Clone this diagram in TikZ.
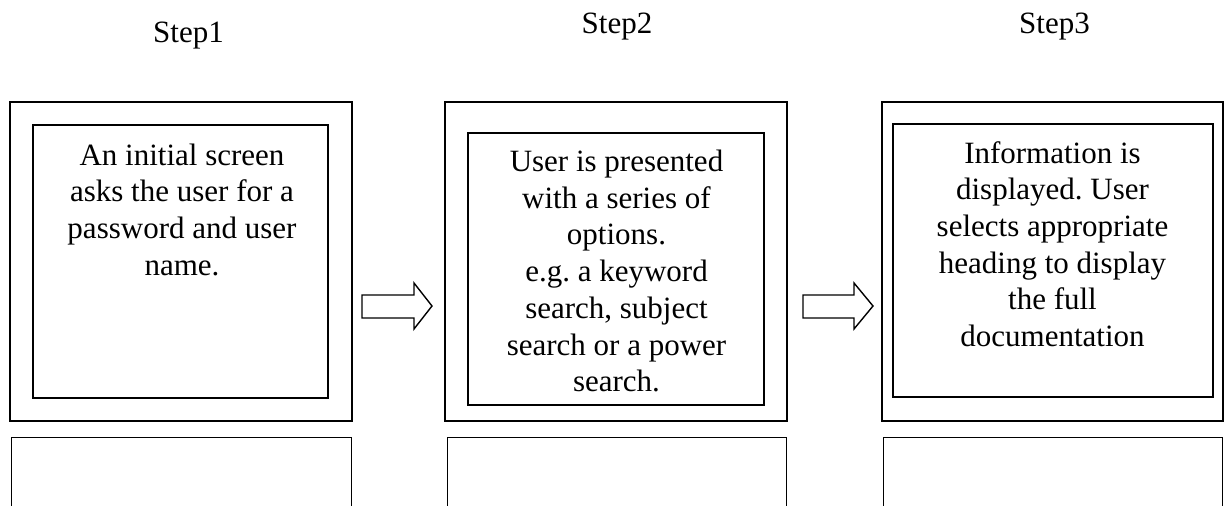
\documentclass[tikz,border=0pt]{standalone}
\usepackage{fontspec}
\setmainfont{Liberation Serif}
\frenchspacing
\begin{document}
\begin{tikzpicture}[x=1pt,y=-1pt,
  frame/.style={draw=black,line width=1.4pt,rectangle,inner sep=0pt},
  txt/.style={align=center,inner sep=0pt,anchor=base,font=\fontsize{31}{36.7}\selectfont\frenchspacing},
  steplbl/.style={inner sep=0pt,anchor=base,font=\fontsize{31}{36.7}\selectfont},
  blockarrow/.style={draw=black,line width=1.4pt,line join=miter,fill=white}]
\useasboundingbox (0,0) rectangle (1224,506);
\clip (0,0) rectangle (1224,506);

% step labels
\node[steplbl] (s1) at (188.5,42) {Step1};
\node[steplbl] (s2) at (617,34) {Step2};
\node[steplbl] (s3) at (1054.5,34) {Step3};

% outer boxes
\node[frame,minimum width=342pt,minimum height=319pt] (o1) at (181,261.5) {};
\node[frame,minimum width=342pt,minimum height=319pt] (o2) at (616,261.5) {};
\node[frame,minimum width=341pt,minimum height=319pt] (o3) at (1052.5,261.5) {};

% inner boxes
\node[frame,minimum width=295pt,minimum height=273pt] (i1) at (180.5,261.5) {};
\node[frame,minimum width=296pt,minimum height=272pt] (i2) at (616,269) {};
\node[frame,minimum width=320pt,minimum height=273pt] (i3) at (1053,260.5) {};

% texts (anchor = baseline of the last line)
\node[txt] (t1) at (182,275.1) {An initial screen\\asks the user for a\\password and user\\name.};
\node[txt] (t2) at (616.5,391.7) {User is presented\\with a series of\\options.\\e.g. a keyword\\search, subject\\search or a power\\search.};
\node[txt] (t3) at (1052.5,346.5) {Information is\\displayed. User\\selects appropriate\\heading to display\\the full\\documentation};

% lower boxes (cut off by the page edge)
\node[frame,minimum width=340pt,minimum height=140pt,anchor=north west] (l1) at (11,437) {};
\node[frame,minimum width=339pt,minimum height=140pt,anchor=north west] (l2) at (447,437) {};
\node[frame,minimum width=339pt,minimum height=140pt,anchor=north west] (l3) at (883,437) {};

% block arrows
\draw[blockarrow] (362,295) -- (414,295) -- (414,283) -- (432,306) -- (414,329) -- (414,318) -- (362,318) -- cycle;
\draw[blockarrow] (803,295) -- (854,295) -- (854,283) -- (873,306) -- (854,329) -- (854,318) -- (803,318) -- cycle;
\end{tikzpicture}
\end{document}
